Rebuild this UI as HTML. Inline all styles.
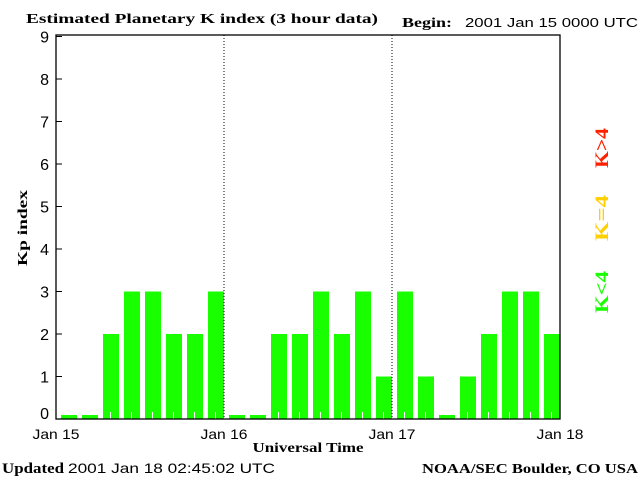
<!DOCTYPE html>
<html><head><meta charset="utf-8">
<style>
html,body{margin:0;padding:0;background:#fff;}
svg{display:block;}
.t{font-family:"Liberation Serif",serif;font-weight:bold;}
.n{font-family:"Liberation Sans",sans-serif;}
</style></head><body>
<svg width="640" height="480" viewBox="0 0 640 480" xmlns="http://www.w3.org/2000/svg">
<text class="t" x="26" y="23" font-size="14" textLength="352" lengthAdjust="spacingAndGlyphs">Estimated Planetary K index (3 hour data)</text>
<text class="t" x="402" y="27" font-size="14" textLength="50" lengthAdjust="spacingAndGlyphs">Begin:</text>
<text class="n" x="465" y="27" font-size="13" textLength="173" lengthAdjust="spacingAndGlyphs">2001 Jan 15 0000 UTC</text>
<g id="plot"></g>
<text class="t" x="27" y="228" font-size="14" transform="rotate(-90 27 228)" text-anchor="middle" textLength="76" lengthAdjust="spacingAndGlyphs">Kp index</text>
<text class="t" x="308" y="452" font-size="14" text-anchor="middle" textLength="111" lengthAdjust="spacingAndGlyphs">Universal Time</text>
<text class="t" x="608" y="148" font-size="19" fill="#ff2000" text-anchor="middle" transform="rotate(-90 608 148)" textLength="40" lengthAdjust="spacingAndGlyphs">K&gt;4</text>
<text class="t" x="608" y="218" font-size="19" fill="#ffd000" text-anchor="middle" transform="rotate(-90 608 218)" textLength="46" lengthAdjust="spacingAndGlyphs">K=4</text>
<text class="t" x="608" y="292" font-size="19" fill="#19ff00" text-anchor="middle" transform="rotate(-90 608 292)" textLength="42" lengthAdjust="spacingAndGlyphs">K&lt;4</text>
<text class="t" x="2" y="473" font-size="15" textLength="62" lengthAdjust="spacingAndGlyphs">Updated</text>
<text class="n" x="68" y="473" font-size="14" textLength="207" lengthAdjust="spacingAndGlyphs">2001 Jan 18 02:45:02 UTC</text>
<text class="t" x="422" y="473" font-size="14" textLength="216" lengthAdjust="spacingAndGlyphs">NOAA/SEC Boulder, CO USA</text>
</svg>
<script>
const kpValues = [0,0,2,3,3,2,2,3, 0,0,2,2,3,2,3,1, 3,1,0,1,2,3,3,2];
const yTicks = [0,1,2,3,4,5,6,7,8,9];
const dayLabels = ["Jan 15","Jan 16","Jan 17","Jan 18"];
const NS="http://www.w3.org/2000/svg";
const L=56,R=560,T=35,B=419;
const xSlot=i=>L+(R-L)*i/kpValues.length;
const xDay=d=>L+(R-L)*d/(dayLabels.length-1);
const yv=v=>B-v*42.5;
const g=document.getElementById('plot');
function mk(tag,attrs){const e=document.createElementNS(NS,tag);for(const k in attrs)e.setAttribute(k,attrs[k]);g.appendChild(e);return e;}
const sw=(R-L)/kpValues.length;
kpValues.forEach((v,i)=>{
  const h=v===0?4:B-yv(v);
  const r=mk('rect',{x:xSlot(i)+5,y:B-h,width:sw-5,height:h,fill:'#19ff00'});
  
  
  if(v>0){const t=mk('line',{x1:xSlot(i)+sw/2+2,x2:xSlot(i)+sw/2+2,y1:B-7,y2:B,stroke:'#fff','stroke-width':1});
  
  }
});
const box=mk('rect',{x:L,y:T,width:R-L,height:B-T,fill:'none',stroke:'#000','stroke-width':1.3});


for(let d=1;d<dayLabels.length-1;d++){
  const l=mk('line',{x1:xDay(d),x2:xDay(d),y1:T,y2:B,stroke:'#000','stroke-width':1,'stroke-dasharray':'1,2'});
  
  
}
yTicks.forEach(v=>{
  const tk=mk('line',{x1:L,x2:L+6,y1:yv(v),y2:yv(v),stroke:'#000','stroke-width':1});
  
  
  const t=mk('text',{x:L-7,y:yv(v)+(v===0?0:6),'text-anchor':'end','font-size':16,class:'n'});
  t.textContent=v;
  
  
});
dayLabels.forEach((s,d)=>{
  const t=mk('text',{x:xDay(d),y:439,'text-anchor':'middle','font-size':14,class:'n',textLength:47,lengthAdjust:'spacingAndGlyphs'});
  t.textContent=s;
  
  
});
</script>
</body></html>
